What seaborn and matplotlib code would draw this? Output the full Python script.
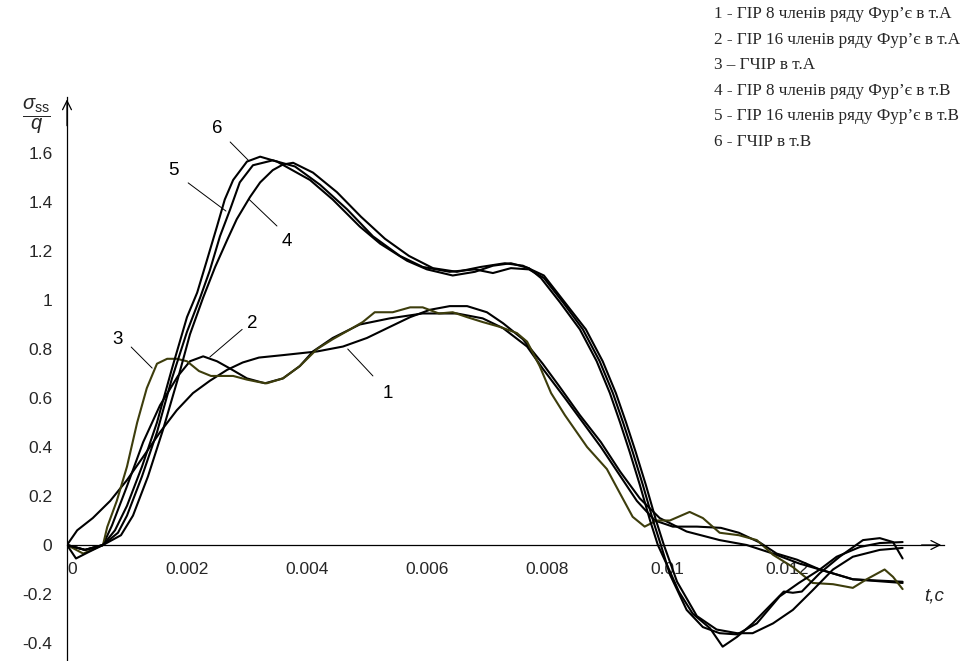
import numpy as np
import pandas as pd
import matplotlib
matplotlib.use("Agg")
import matplotlib.pyplot as plt
import seaborn as sns

# ---------------- data (t in ms) ----------------
t1 = [0, 0.17, 0.43, 0.72, 1.0, 1.27, 1.55, 1.83, 2.1, 2.38, 2.67, 2.93, 3.2, 3.6, 4.17, 4.6, 5.0,
      5.38, 5.72, 6.05, 6.38, 6.67, 7.0, 7.27, 7.6, 7.93, 8.2, 8.55, 8.9, 9.22, 9.55, 9.88, 10.33,
      10.88, 11.33, 11.77, 12.2, 12.55, 13.1, 13.93]
y1 = [0, 0.06, 0.11, 0.18, 0.265, 0.36, 0.46, 0.55, 0.62, 0.67, 0.715, 0.745, 0.765, 0.775, 0.79,
      0.81, 0.845, 0.89, 0.93, 0.96, 0.975, 0.975, 0.95, 0.905, 0.84, 0.74, 0.65, 0.53, 0.42, 0.30,
      0.19, 0.11, 0.055, 0.02, 0.0, -0.035, -0.075, -0.10, -0.14, -0.155]

t2 = [0, 0.3, 0.6, 0.75, 1.0, 1.27, 1.55, 1.85, 2.05, 2.27, 2.5, 2.72, 3.0, 3.3, 3.6, 3.88, 4.1,
      4.43, 4.88, 5.38, 5.93, 6.5, 6.93, 7.27, 7.67, 7.93, 8.3, 8.6, 8.9, 9.2, 9.5, 9.8, 10.1, 10.5,
      10.9, 11.2, 11.55, 11.83, 12.17, 12.55, 13.1, 13.93]
y2 = [0, -0.02, 0.0, 0.08, 0.24, 0.42, 0.57, 0.69, 0.75, 0.77, 0.75, 0.72, 0.68, 0.66, 0.68, 0.73,
      0.79, 0.845, 0.90, 0.925, 0.945, 0.945, 0.925, 0.885, 0.81, 0.72, 0.60, 0.50, 0.40, 0.29, 0.18,
      0.10, 0.075, 0.075, 0.07, 0.05, 0.01, -0.035, -0.06, -0.10, -0.14, -0.15]

t3 = [0, 0.27, 0.6, 0.67, 0.83, 1.0, 1.17, 1.33, 1.5, 1.67, 1.83, 2.0, 2.2, 2.4, 2.6, 2.77, 3.0, 3.2,
      3.33, 3.6, 3.88, 4.17, 4.43, 4.72, 4.93, 5.13, 5.43, 5.72, 5.93, 6.2, 6.43, 6.67, 6.93, 7.22,
      7.5, 7.67, 7.88, 8.07, 8.3, 8.67, 9.0, 9.22, 9.43, 9.63, 9.83, 10.05, 10.38, 10.6, 10.88, 11.2,
      11.5, 11.77, 12.1, 12.43, 12.77, 13.1, 13.33, 13.63, 13.77, 13.93]
y3 = [0, -0.035, 0.0, 0.073, 0.18, 0.32, 0.50, 0.64, 0.74, 0.76, 0.76, 0.75, 0.71, 0.69, 0.69, 0.69,
      0.675, 0.665, 0.66, 0.68, 0.73, 0.80, 0.84, 0.88, 0.91, 0.95, 0.95, 0.97, 0.97, 0.945, 0.95,
      0.93, 0.91, 0.89, 0.865, 0.83, 0.73, 0.62, 0.53, 0.40, 0.31, 0.21, 0.115, 0.075, 0.10, 0.10,
      0.135, 0.11, 0.05, 0.04, 0.02, -0.04, -0.09, -0.155, -0.16, -0.175, -0.14, -0.10, -0.13, -0.18]

t4 = [0, 0.3, 0.6, 0.9, 1.1, 1.35, 1.6, 1.85, 2.05, 2.27, 2.47, 2.67, 2.83, 3.05, 3.22, 3.43, 3.6,
      3.77, 4.1, 4.5, 4.9, 5.3, 5.7, 6.1, 6.5, 6.9, 7.3, 7.6, 7.95, 8.3, 8.65, 8.93, 9.15, 9.32, 9.48,
      9.65, 9.82, 9.95, 10.17, 10.5, 10.83, 11.17, 11.43, 11.77, 12.1, 12.43, 12.77, 13.1, 13.55,
      13.93]
y4 = [0, -0.02, 0.0, 0.04, 0.12, 0.28, 0.47, 0.68, 0.86, 1.01, 1.135, 1.245, 1.33, 1.42, 1.48, 1.53,
      1.553, 1.56, 1.52, 1.44, 1.34, 1.25, 1.18, 1.13, 1.115, 1.135, 1.15, 1.14, 1.10, 0.99, 0.88,
      0.75, 0.62, 0.50, 0.38, 0.245, 0.10, 0.0, -0.15, -0.29, -0.345, -0.36, -0.36, -0.32, -0.265,
      -0.185, -0.10, -0.048, -0.02, -0.012]

t5 = [0, 0.3, 0.6, 0.85, 1.0, 1.25, 1.5, 1.75, 2.0, 2.22, 2.38, 2.55, 2.72, 2.88, 3.1, 3.43, 3.8,
      4.22, 4.67, 5.1, 5.55, 5.93, 6.38, 6.8, 7.1, 7.4, 7.7, 7.95, 8.27, 8.6, 8.88, 9.1, 9.27, 9.43,
      9.6, 9.77, 9.9, 10.05, 10.33, 10.6, 10.88, 11.17, 11.5, 11.88, 12.2, 12.55, 12.83, 13.22,
      13.55, 13.93]
y5 = [0, -0.02, 0.0, 0.05, 0.12, 0.28, 0.46, 0.68, 0.87, 1.01, 1.12, 1.26, 1.37, 1.48, 1.55, 1.57,
      1.545, 1.47, 1.37, 1.26, 1.18, 1.135, 1.115, 1.125, 1.11, 1.13, 1.125, 1.09, 0.99, 0.88, 0.75,
      0.62, 0.50, 0.38, 0.245, 0.10, 0.0, -0.12, -0.265, -0.335, -0.36, -0.365, -0.32, -0.21,
      -0.155, -0.10, -0.048, -0.008, 0.008, 0.012]

t6 = [0, 0.15, 0.35, 0.6, 0.8, 1.0, 1.25, 1.5, 1.75, 2.0, 2.17, 2.33, 2.5, 2.63, 2.77, 3.0, 3.22,
      3.5, 4.05, 4.43, 4.88, 5.22, 5.67, 6.0, 6.43, 6.8, 7.1, 7.4, 7.7, 7.9, 8.22, 8.55, 8.83, 9.05,
      9.22, 9.38, 9.55, 9.72, 9.85, 10.0, 10.2, 10.43, 10.72, 10.93, 11.17, 11.43, 11.77, 11.95,
      12.1, 12.25, 12.55, 12.88, 13.27, 13.55, 13.77, 13.93]
y6 = [0, -0.055, -0.03, 0.0, 0.06, 0.16, 0.32, 0.50, 0.72, 0.93, 1.03, 1.16, 1.30, 1.41, 1.49,
      1.565, 1.585, 1.565, 1.49, 1.41, 1.30, 1.23, 1.16, 1.125, 1.10, 1.115, 1.14, 1.15, 1.13, 1.09,
      0.99, 0.88, 0.75, 0.62, 0.50, 0.38, 0.245, 0.10, 0.0, -0.08, -0.19, -0.28, -0.34, -0.415,
      -0.375, -0.32, -0.235, -0.19, -0.195, -0.19, -0.115, -0.048, 0.02, 0.028, 0.012, -0.055]

curve_ids = ["1", "2", "3", "4", "5", "6"]
x_ticks = [0, 0.002, 0.004, 0.006, 0.008, 0.010, 0.012, 0.014]
x_tick_labels = ["0", "0.002", "0.004", "0.006", "0.008", "0.01", "0.012", ""]
y_ticks = [-0.4, -0.2, 0, 0.2, 0.4, 0.6, 0.8, 1.0, 1.2, 1.4, 1.6]
y_tick_labels = ["-0.4", "-0.2", "0", "0.2", "0.4", "0.6", "0.8", "1", "1.2", "1.4", "1.6"]
legend_lines = [
    "1 - ГІР 8 членів ряду Фур’є в т.А",
    "2 - ГІР 16 членів ряду Фур’є в т.А",
    "3 – ГЧІР в т.А",
    "4 - ГІР 8 членів ряду Фур’є в т.В",
    "5 - ГІР 16 членів ряду Фур’є в т.В",
    "6 - ГЧІР в т.В",
]

# ---------------- build long table ----------------
series = [(t1, y1), (t2, y2), (t3, y3), (t4, y4), (t5, y5), (t6, y6)]
frames = []
for cid, (tt, yy) in zip(curve_ids, series):
    frames.append(pd.DataFrame({"t": np.asarray(tt) * 1e-3, "y": yy, "curve": cid}))
df = pd.concat(frames, ignore_index=True)

# ---------------- style ----------------
sns.set_style("white")
plt.rcParams["font.family"] = ["Liberation Sans", "DejaVu Sans"]
plt.rcParams["axes.unicode_minus"] = False
plt.rcParams["mathtext.fontset"] = "custom"
plt.rcParams["mathtext.rm"] = "Liberation Sans"
plt.rcParams["mathtext.it"] = "Liberation Sans:italic"

olive = "#3d3d0c"
palette = {"1": "black", "2": "black", "3": olive, "4": "black", "5": "black", "6": "black"}

fig = plt.figure(figsize=(9.65, 6.61), dpi=100)
ax = fig.add_axes([0.06943, 0.00129, 0.9088, 0.8525])

sns.lineplot(data=df, x="t", y="y", hue="curve", palette=palette, estimator=None,
             sort=False, legend=False, linewidth=1.5, ax=ax)

ax.set_xlim(0, 0.01462)
ax.set_ylim(-0.47, 1.83)

for s in ["top", "right"]:
    ax.spines[s].set_visible(False)
ax.spines["bottom"].set_position(("data", 0))
ax.spines["left"].set_position(("data", 0))
for s in ["bottom", "left"]:
    ax.spines[s].set_color("black")
    ax.spines[s].set_linewidth(0.9)

ax.set_xticks(x_ticks)
ax.set_xticklabels(x_tick_labels)
ax.set_yticks(y_ticks)
ax.set_yticklabels(y_tick_labels)
ax.tick_params(axis="x", direction="out", length=4, width=0.9, color="black",
               labelsize=12.5, pad=8)
ax.tick_params(axis="y", direction="out", length=4.5, width=0.9, color="black",
               labelsize=12.5, pad=6)
ax.get_xticklabels()[0].set_horizontalalignment("left")
ax.set_xlabel("")
ax.set_ylabel("")
ax.grid(False)

# axis arrows
ax.annotate("", xy=(0.01462, 0), xytext=(0.0142, 0),
            arrowprops=dict(arrowstyle="->", color="black", lw=0.9, mutation_scale=16),
            annotation_clip=False)
ax.annotate("", xy=(0, 1.83), xytext=(0, 1.7),
            arrowprops=dict(arrowstyle="->", color="black", lw=0.9, mutation_scale=16),
            annotation_clip=False)

# curve numbers with leader lines (t in ms)
labels = {
    "1": ((5.35, 0.62), (5.1, 0.69), (4.68, 0.80)),
    "2": ((3.08, 0.906), (2.92, 0.88), (2.38, 0.767)),
    "3": ((0.85, 0.837), (1.07, 0.808), (1.42, 0.722)),
    "4": ((3.67, 1.237), (3.5, 1.302), (3.03, 1.412)),
    "5": ((1.78, 1.53), (2.02, 1.478), (2.65, 1.363)),
    "6": ((2.5, 1.702), (2.72, 1.645), (3.02, 1.571)),
}
for k, (tp, a, b) in labels.items():
    ax.text(tp[0] * 1e-3, tp[1], k, fontsize=13.5, ha="center", va="center", color="black")
    ax.annotate("", xy=(b[0] * 1e-3, b[1]), xytext=(a[0] * 1e-3, a[1]),
                arrowprops=dict(arrowstyle="-", color="black", lw=0.7,
                                shrinkA=0, shrinkB=0))

# axis labels
fig.text(36 / 965, 1 - 116 / 661, r"$\dfrac{\sigma_{\mathrm{ss}}}{q}$", fontsize=14.5,
         ha="center", va="center")
fig.text(934 / 965, 1 - 596 / 661, "t,c", fontsize=13.5, style="italic",
         ha="center", va="center")

# legend text block
for i, line in enumerate(legend_lines):
    fig.text(714 / 965, 1 - (14 + 25.6 * i) / 661, line, fontsize=12.3,
             family=["Liberation Serif", "DejaVu Serif"], ha="left", va="center")

fig.savefig("out.png", dpi=100)
